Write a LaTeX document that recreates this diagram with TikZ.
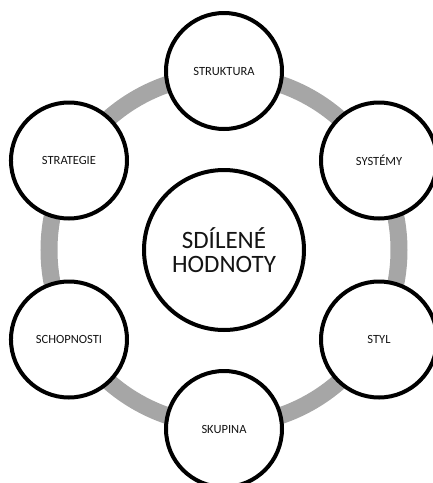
\documentclass[tikz,border=0pt]{standalone}
\usepackage{fontspec}
\setmainfont{Carlito}
\usetikzlibrary{positioning,calc}
\definecolor{ringgray}{RGB}{166,166,166}
\definecolor{textblack}{RGB}{20,20,20}
\tikzset{
  factor/.style={circle, draw=black, line width=4pt, fill=white,
                 minimum size=116pt, inner sep=0pt, align=center,
                 text=textblack, font=\fontsize{12.5}{14}\selectfont},
  core/.style={factor, minimum size=160pt,
               font=\fontsize{25}{24}\selectfont},
  ring/.style={draw=ringgray, line width=17pt}
}
\begin{document}
\begin{tikzpicture}[x=1pt, y=-1pt]
  \useasboundingbox (0,0) rectangle (433,483);
  \coordinate (hub) at (224,250);
  \draw[ring] (hub) circle (175pt);
  \node[core] (values) at (hub) {SDÍLENÉ\\HODNOTY};
  \node[factor] (struct) at ($(hub)+(90:179pt)$) {STRUKTURA};
  \node[factor] (sys) at ($(hub)+(30:179pt)$) {SYSTÉMY};
  \node[factor] (style) at ($(hub)+(-30:179pt)$) {STYL};
  \node[factor] (staff) at ($(hub)+(-90:179pt)$) {SKUPINA};
  \node[factor] (skills) at ($(hub)+(-150:179pt)$) {SCHOPNOSTI};
  \node[factor] (strat) at ($(hub)+(150:179pt)$) {STRATEGIE};
\end{tikzpicture}
\end{document}
